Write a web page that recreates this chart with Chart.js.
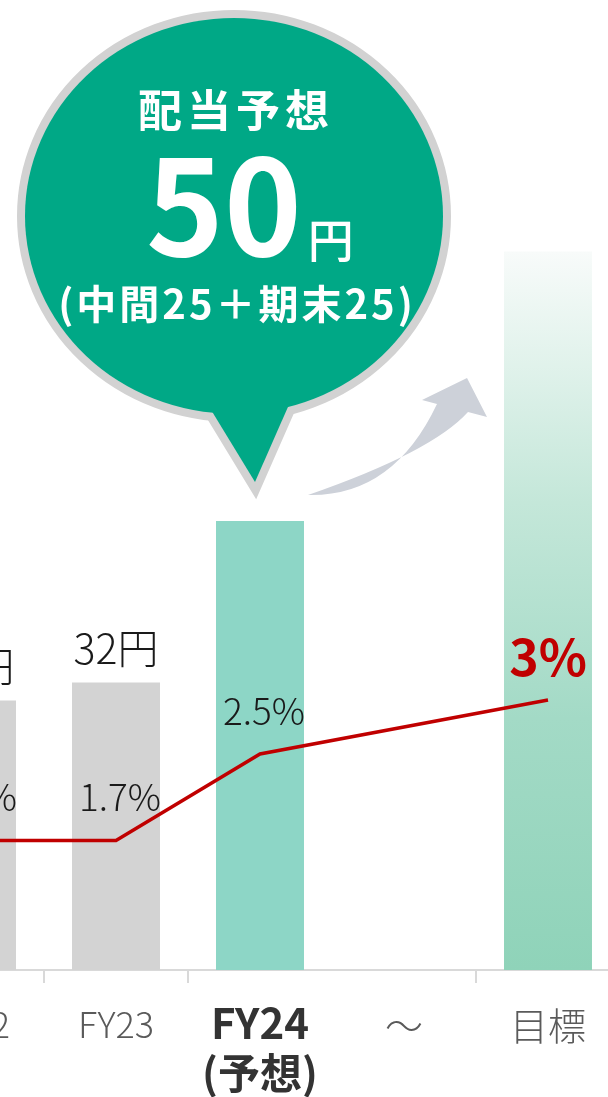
<!DOCTYPE html>
<html lang="ja">
<head>
<meta charset="utf-8">
<script src="https://cdn.jsdelivr.net/npm/chart.js@4.4.1/dist/chart.umd.min.js"></script>
<style>
html, body { margin: 0; padding: 0; background: #fff; overflow: hidden; }
#wrap { position: relative; width: 608px; height: 1097px; overflow: hidden; }
#chart { position: absolute; left: -100px; top: 0; }
</style>
</head>
<body>
<div id="wrap"><canvas id="chart" width="720" height="1097"></canvas></div>
<script>
// data
var categories = ['FY22', 'FY23', ['FY24', '(予想)'], '～', '目標'];
var dividends = [30, 32, 50, null, 80];          // 円 (目標 bar is the goal column)
var yields = [1.7, 1.7, 2.5, null, 3];          // %
var dividendLabels = ['30円', '32円', null, null, null];
var yieldLabels = ['1.7%', '1.7%', '2.5%', null, '3%'];
var bubbleTitle = '配当予想';
var bubbleValue = '50';
var bubbleUnit = '円';
var bubbleNote = '(中間25＋期末25)';

var FONT = '"Noto Sans CJK JP", "Noto Sans", sans-serif';
var fy24 = 2, goal = 4, gap = 3;

function barColor(c) {
  var i = c.dataIndex;
  if (i === fy24) return '#8dd6c6';
  if (i === goal) {
    var chart = c.chart;
    if (!chart.chartArea) return '#90d4bb';
    var top = chart.scales.y.getPixelForValue(dividends[goal]);
    var g = chart.ctx.createLinearGradient(0, top, 0, chart.chartArea.bottom);
    g.addColorStop(0, '#f8fbfa');
    g.addColorStop(0.35, '#c4e7d9');
    g.addColorStop(0.65, '#a3dac6');
    g.addColorStop(1, '#8fd3b9');
    return g;
  }
  return '#d3d3d3';
}

var labelsPlugin = {
  id: 'valueLabels',
  afterDatasetsDraw: function(chart) {
    var ctx = chart.ctx;
    var bars = chart.getDatasetMeta(0).data;
    var pts = chart.getDatasetMeta(1).data;
    ctx.save();
    ctx.textAlign = 'center';
    ctx.textBaseline = 'alphabetic';
    bars.forEach(function(bar, i) {
      if (!dividendLabels[i]) return;
      ctx.font = '300 41px ' + FONT;
      ctx.fillStyle = '#1a1a1a';
      ctx.fillText(dividendLabels[i], bar.x, bar.y - 19);
    });
    pts.forEach(function(pt, i) {
      if (!yieldLabels[i]) return;
      if (i === goal) {
        ctx.font = 'bold 50px ' + FONT;
        ctx.fillStyle = '#c00000';
        ctx.fillText(yieldLabels[i], pt.x, pt.y - 24);
      } else {
        ctx.font = '300 37px ' + FONT;
        ctx.fillStyle = '#1a1a1a';
        ctx.fillText(yieldLabels[i], pt.x + 4, pt.y - 29);
      }
    });
    ctx.restore();
  }
};

var bubblePlugin = {
  id: 'bubble',
  afterDraw: function(chart) {
    var ctx = chart.ctx;
    var bar = chart.getDatasetMeta(0).data[fy24];
    var ax = bar.x, ay = bar.y;
    var cx = ax - 26, cy = ay - 305;
    ctx.save();

    // curved arrow towards the goal
    ctx.fillStyle = '#cdd1d9';
    ctx.beginPath();
    ctx.moveTo(ax + 48, ay - 26);
    ctx.quadraticCurveTo(ax + 133, ay - 24, ax + 177, ay - 117);
    ctx.lineTo(ax + 162, ay - 121);
    ctx.lineTo(ax + 207, ay - 143);
    ctx.lineTo(ax + 227, ay - 104);
    ctx.lineTo(ax + 208, ay - 109);
    ctx.quadraticCurveTo(ax + 172, ay - 69, ax + 48, ay - 26);
    ctx.closePath();
    ctx.fill();

    // speech bubble
    ctx.lineJoin = 'miter';
    ctx.lineWidth = 16;
    ctx.strokeStyle = '#d2d2d2';
    ctx.beginPath();
    ctx.ellipse(cx, cy, 209, 198, 0, 0, Math.PI * 2);
    ctx.stroke();
    ctx.beginPath();
    ctx.moveTo(cx - 29, cy + 184);
    ctx.lineTo(ax - 5, ay - 39);
    ctx.lineTo(cx + 57, cy + 184);
    ctx.stroke();
    ctx.fillStyle = '#00a886';
    ctx.beginPath();
    ctx.ellipse(cx, cy, 209, 198, 0, 0, Math.PI * 2);
    ctx.fill();
    ctx.beginPath();
    ctx.moveTo(cx - 29, cy + 184);
    ctx.lineTo(ax - 5, ay - 39);
    ctx.lineTo(cx + 57, cy + 184);
    ctx.closePath();
    ctx.fill();

    // bubble text
    ctx.fillStyle = '#ffffff';
    ctx.textBaseline = 'alphabetic';
    ctx.textAlign = 'center';
    ctx.font = 'bold 44px ' + FONT;
    ctx.letterSpacing = '5px';
    ctx.fillText(bubbleTitle, cx + 2, cy - 89);
    ctx.letterSpacing = '0px';

    ctx.textAlign = 'left';
    ctx.font = 'bold 132px ' + FONT;
    var w = ctx.measureText(bubbleValue).width;
    var start = cx - 88;
    ctx.fillText(bubbleValue, start, cy + 40);
    ctx.font = '500 46px ' + FONT;
    ctx.fillText(bubbleUnit, start + w + 6, cy + 41);

    ctx.textAlign = 'center';
    ctx.font = '600 40px ' + FONT;
    ctx.letterSpacing = '3px';
    ctx.fillText(bubbleNote, cx + 3, cy + 103);
    ctx.restore();
  }
};

new Chart(document.getElementById('chart'), {
  data: {
    labels: categories,
    datasets: [{
      type: 'bar',
      data: dividends,
      backgroundColor: barColor,
      borderWidth: 0,
      categoryPercentage: 1,
      barPercentage: 0.611,
      yAxisID: 'y',
      order: 1
    }, {
      type: 'line',
      data: yields,
      borderColor: '#c00000',
      borderWidth: 3.5,
      pointRadius: 0,
      tension: 0,
      spanGaps: true,
      yAxisID: 'y2',
      order: 0
    }]
  },
  plugins: [labelsPlugin, bubblePlugin],
  options: {
    responsive: false,
    animation: false,
    devicePixelRatio: 1,
    layout: { padding: 0 },
    plugins: { legend: { display: false }, tooltip: { enabled: false } },
    scales: {
      x: {
        offset: true,
        grid: {
          offset: true,
          drawOnChartArea: false,
          tickLength: 13,
          lineWidth: 2,
          color: function(c) { return c.index === gap ? 'rgba(0,0,0,0)' : '#d9d9d9'; }
        },
        border: { color: '#d9d9d9', width: 2 },
        ticks: {
          autoSkip: false,
          maxRotation: 0,
          padding: 15,
          color: function(c) { return c.index === fy24 ? '#333333' : '#5a5a5a'; },
          font: function(c) {
            if (c.index === fy24) return { family: FONT, size: 42, weight: 'bold', lineHeight: '50px' };
            if (c.index === goal || c.index === gap) return { family: FONT, size: 38, weight: 300, lineHeight: '56px' };
            return { family: FONT, size: 36, weight: 300, lineHeight: '52px' };
          }
        },
        afterFit: function(scale) { scale.height = 127; }
      },
      y: { display: false, min: 0, max: 108 },
      y2: { display: false, min: 0.5, max: 9.48 }
    }
  }
});
</script>
</body>
</html>
